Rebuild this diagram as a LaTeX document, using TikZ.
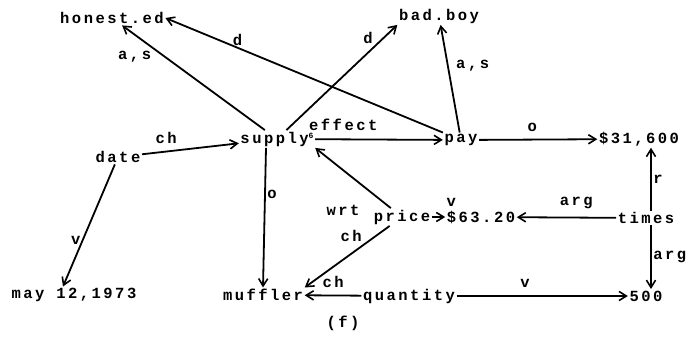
\documentclass[tikz,border=0pt]{standalone}
\usepackage{fontspec}
\newfontfamily\tw{Liberation Mono}[LetterSpace=16]
\usetikzlibrary{arrows.meta}

\begin{document}
\begin{tikzpicture}[
  x=1pt, y=-1pt,
  >={Straight Barb[length=2.6mm, width=3.2mm, line width=1.6pt]},
  every node/.style={font=\tw\bfseries\fontsize{15.5}{18}\selectfont},
  word/.style={inner sep=1.5pt},
  edge/.style={->, line width=1.8pt},
  lab/.style={inner sep=1.5pt}
]
\useasboundingbox (0,0) rectangle (691,350);
% ---- concepts ----
\node[word] (honest)   at (112,18)  {honest.ed};
\node[word] (badboy)   at (439,16)  {bad.boy};
\node[word] (supply)   at (277,139) {supply\raisebox{5pt}{\fontsize{8}{8}\selectfont 6}};
\node[word] (date)     at (118,157) {date};
\node[word] (pay)      at (461,140) {pay};
\node[word] (big)      at (639,139) {\$31,600};
\node[word] (price)    at (402,217) {price};
\node[word] (small)    at (481,217) {\$63.20};
\node[word] (times)    at (646,218) {times};
\node[word] (may)      at (74,295)  {may 12,1973};
\node[word] (muffler)  at (263,295) {muffler};
\node[word] (quantity) at (409,296) {quantity};
\node[word] (five)     at (646,296) {500};
\node[word] (tag)      at (343,323) {(f)};
% ---- relations from supply ----
\draw[edge] (date) -- node[lab, above=5pt, pos=0.25] {ch} (supply);
\draw[edge] (date) -- node[lab, left, pos=0.62] {v} ([xshift=-11pt]may.north);
\draw[edge] (supply) -- node[lab, below left, pos=0.78] {a,s} (honest);
\draw[edge] (supply) -- node[lab, above left, pos=0.8] {d} (badboy.south west);
\draw[edge] (supply) -- node[lab, above=6pt, pos=0.22] {effect} (pay);
\draw[edge] ([xshift=-11pt]supply.south) -- node[lab, right, pos=0.33] {o} (muffler.north);
% ---- relations from pay ----
\draw[edge] (pay) -- node[lab, above, pos=0.74] {d} (honest.east);
\draw[edge] (pay) -- node[lab, right=6pt, pos=0.62] {a,s} (badboy);
\draw[edge] (pay) -- node[lab, above=6pt, pos=0.45] {o} (big);
% ---- price and quantity ----
\draw[edge] (price) -- node[lab, below left=10pt, pos=0.25] {wrt} (supply.south east);
\draw[edge] (price) -- node[lab, above left, pos=0.3] {ch} (muffler.north east);
\draw[edge] (price) -- node[lab, above=8pt, pos=1, xshift=6pt] {v} (small);
\draw[edge] (quantity) -- node[lab, above=5pt, pos=0.5] {ch} (muffler);
\draw[edge] (quantity) -- node[lab, above=6pt, pos=0.4] {v} (five);
% ---- times ----
\draw[edge] (times) -- node[lab, above=6pt, pos=0.4] {arg} (small);
\draw[edge] ([xshift=5pt]times.north) -- node[lab, right] {r} ([xshift=12pt]big.south);
\draw[edge] ([xshift=5pt]times.south) -- node[lab, right] {arg} ([xshift=5pt]five.north);
\end{tikzpicture}
\end{document}
